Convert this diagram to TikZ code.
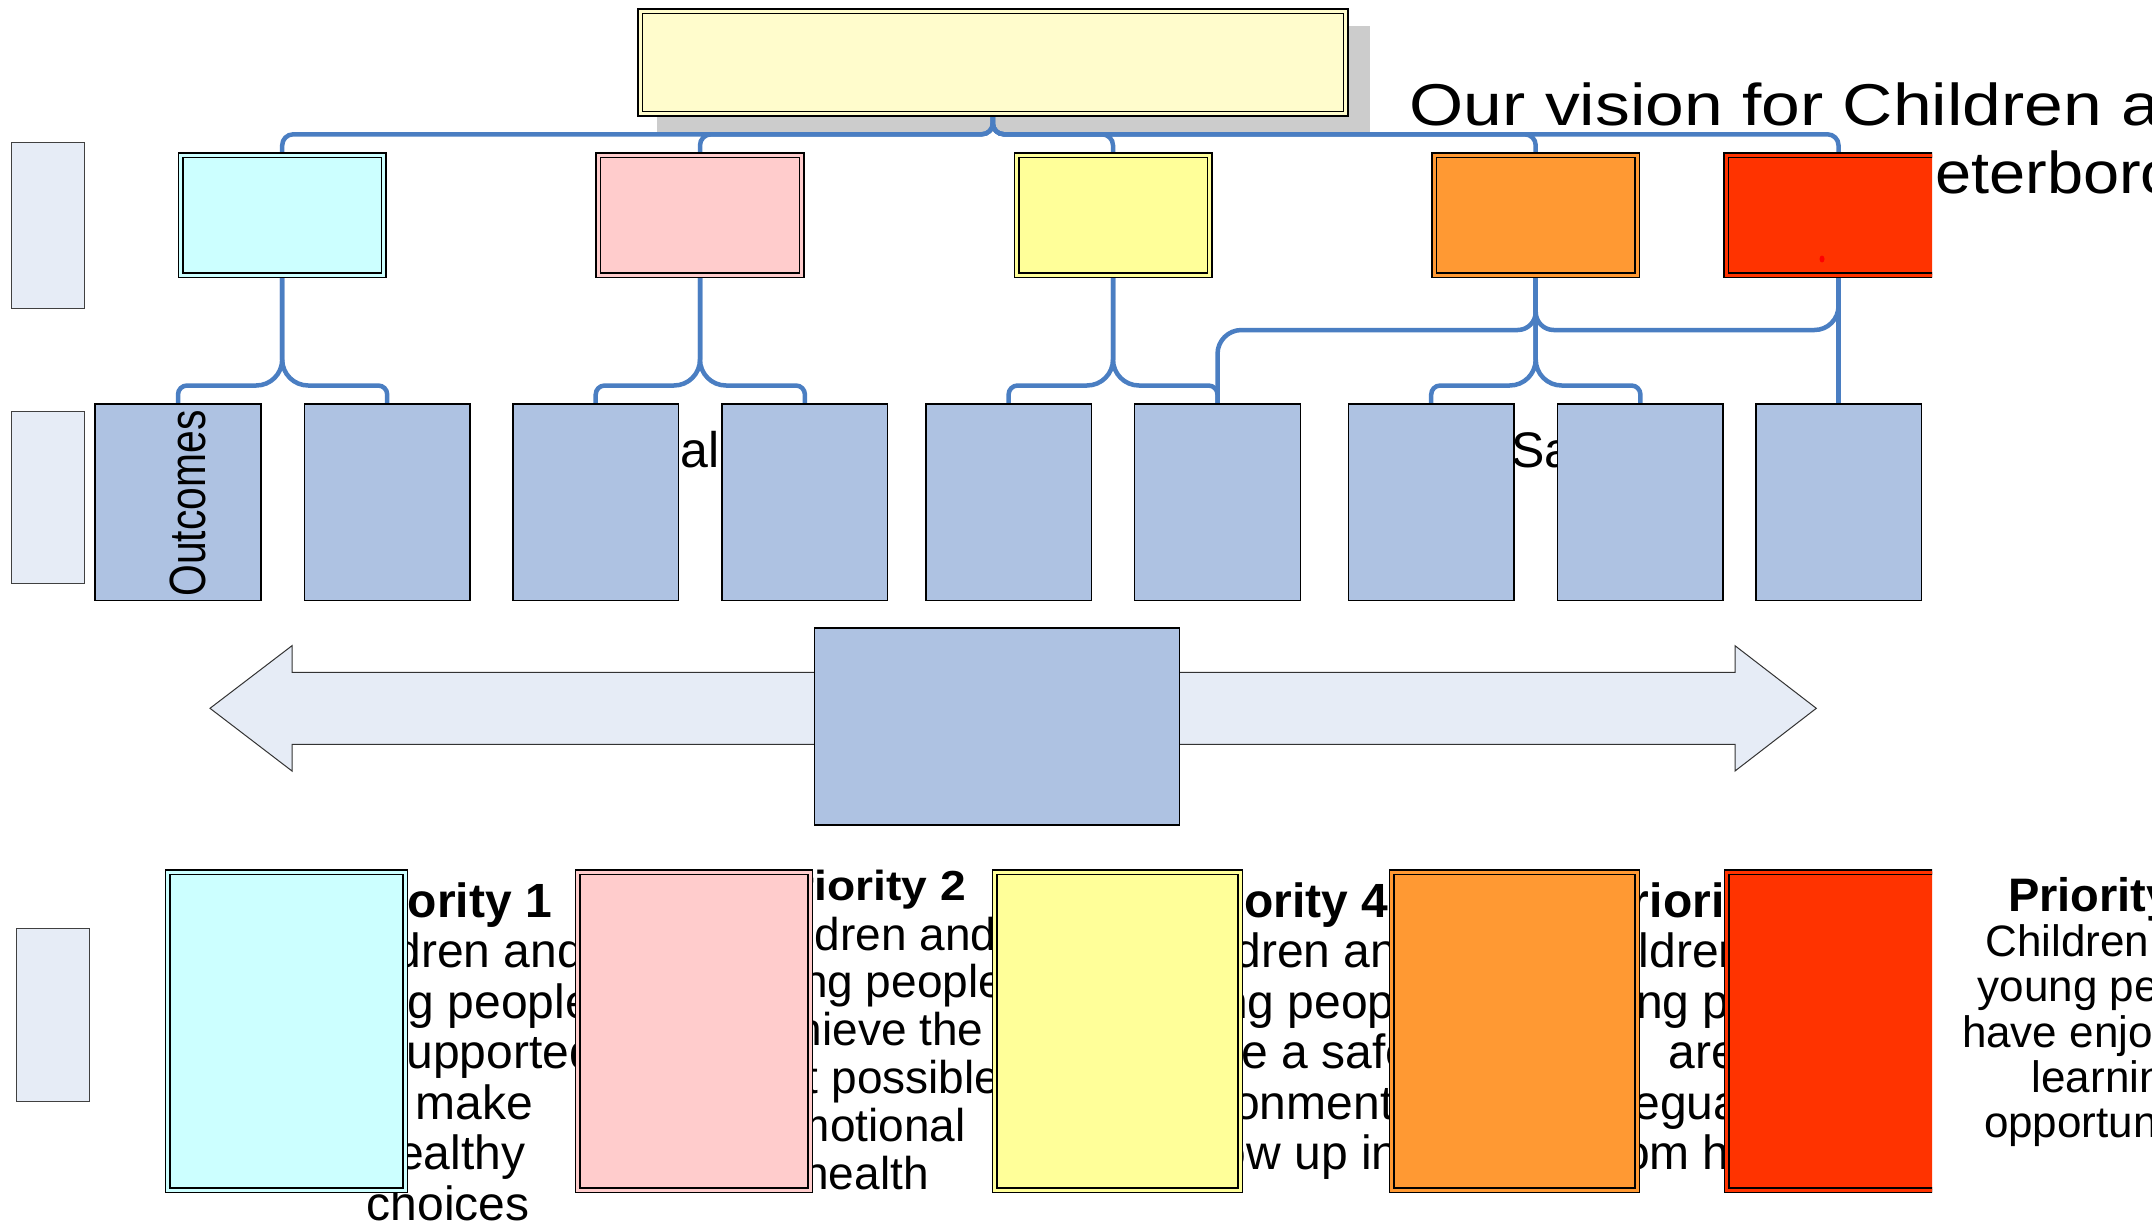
\documentclass[tikz,border=0pt]{standalone}
\usepackage{fontspec}
\setmainfont{Liberation Sans}
\usetikzlibrary{calc}
\pgfdeclarelayer{bg}
\pgfsetlayers{bg,main}
\definecolor{cblue}{RGB}{74,126,194}
\definecolor{lightbox}{RGB}{230,236,246}
\definecolor{outbox}{RGB}{174,194,226}
\definecolor{cyanb}{RGB}{204,255,255}
\definecolor{pinkb}{RGB}{255,204,204}
\definecolor{yellb}{RGB}{255,255,153}
\definecolor{orangeb}{RGB}{255,153,51}
\definecolor{redb}{RGB}{255,51,0}
\definecolor{topb}{RGB}{255,252,204}
\definecolor{shadowc}{RGB}{204,204,204}
\tikzset{
  conn/.style={draw=cblue, line width=4.5pt},
  dbox/.style={rectangle, inner sep=0pt, draw=black, line width=1.5pt, fill=#1, double=#1, double distance=3pt},
  obox/.style={rectangle, inner sep=0pt, draw=black, line width=1.5pt, fill=outbox, minimum width=165.6pt, minimum height=196.2pt},
  lbox/.style={rectangle, inner sep=0pt, draw=black!75, line width=1pt, fill=lightbox},
  arrowshape/.style={fill=lightbox, draw=black!80, line width=1pt},
  ptitle/.style={font=\fontsize{48}{50}\selectfont\bfseries, inner sep=0pt, anchor=base},
  pbody/.style={font=\fontsize{48}{50}\selectfont, inner sep=0pt, anchor=base},
  ttl/.style={font=\fontsize{59}{68}\selectfont, inner sep=0pt, anchor=base west},
  frag/.style={font=\fontsize{50}{60}\selectfont, inner sep=0pt, anchor=base west},
}
\newcommand\splitconn[5]{\draw[conn] (#1) [rounded corners=#4pt] -- (#1 |- #3) -- ($(#1 |- #3)!0.5!(#2 |- #3)$) [rounded corners=#5pt] -- (#2 |- #3) -- (#2);}
\begin{document}
\begin{tikzpicture}[x=1pt,y=-1pt]
\useasboundingbox (0,0) rectangle (2152,1227);
\clip (0,0) rectangle (2152,1227);

% row label boxes
\node[lbox, minimum width=72.4pt, minimum height=166.3pt] (lab1) at (48,225.65) {};
\node[lbox, minimum width=73pt, minimum height=172.3pt] (lab2) at (47.8,497.65) {};
\node[lbox, minimum width=73pt, minimum height=172.7pt] (lab3) at (53,1014.85) {};

% top box
\node[dbox=topb, minimum width=705.6pt, minimum height=102.4pt] (top) at (992.8,62.5) {};

% level 1
\node[dbox=cyanb, minimum width=203pt, minimum height=120pt] (c1) at (282.2,215.3) {};
\node[dbox=pinkb, minimum width=203.7pt, minimum height=120pt] (c2) at (700,215.3) {};
\node[dbox=yellb, minimum width=193pt, minimum height=120pt] (c3) at (1113,215.3) {};
\node[dbox=orangeb, minimum width=203.4pt, minimum height=120pt] (c4) at (1535.7,215.3) {};

% level 2
\foreach \xx [count=\i] in {178,387.2,595.7,804.9,1008.6,1217.5,1431.2,1640.4,1838.7}
  \node[obox] (o\i) at (\xx,502.2) {};

% double arrow and centre box
\draw[arrowshape] (210,708.3) -- (292,645.7) -- (292,672.3) -- (1735,672.3) -- (1735,645.7) -- (1816.3,708.3) -- (1735,771) -- (1735,744.3) -- (292,744.3) -- (292,771) -- cycle;
\node[obox, minimum width=365pt, minimum height=197pt] (mid) at (996.75,726.5) {};

% bottom priority boxes
\node[dbox=cyanb, minimum width=237.7pt, minimum height=318pt] (q1) at (286.35,1031.3) {};
\node[dbox=pinkb, minimum width=232.5pt, minimum height=318pt] (q2) at (693.85,1031.3) {};
\node[dbox=yellb, minimum width=245.6pt, minimum height=318pt] (q3) at (1117.5,1031.3) {};
\node[dbox=orangeb, minimum width=245.3pt, minimum height=318pt] (q4) at (1514.35,1031.3) {};
\begin{scope}
  \clip (1700,0) rectangle (1932,1227);
  \node[dbox=redb, minimum width=224.4pt, minimum height=120pt] (c5) at (1838.5,215.3) {};
  \node[dbox=redb, minimum width=250.3pt, minimum height=318pt] (q5) at (1851.85,1031.3) {};
\end{scope}
\fill[red] (1822,259) ellipse [x radius=2.5pt, y radius=3.5pt];

% rotated label
\node[rotate=90, xscale=0.8, anchor=base, inner sep=0pt, font=\fontsize{51}{51}\selectfont] (outc) at (205,503.5) {Outcomes};

\begin{pgfonlayer}{bg}
  \clip (0,0) rectangle (2152,1227);
  \fill[white] (0,0) rectangle (2152,1227);
  \fill[shadowc] (657,26) rectangle (1370,132);

  % title
  \node[ttl, xscale=1.18] (title1) at (1409.5,125) {Our vision for Children and};
  \node[ttl, xscale=1.10] (title2) at (1891.7,193.3) {Peterborough};

  % fragments behind level-2 boxes
  \node[frag] (fragal) at (680,467) {al};
  \node[frag] (fragsa) at (1511,467) {Sa};

  % priority texts
  \node[ptitle] (p1t) at (448,917) {Priority 1};
  \foreach \txt [count=\i] in {Children and,young people,are supported,to make,healthy,choices}
    \node[pbody] (p1l\i) at (448,917+50.5*\i) {\txt};

  \node[ptitle, font=\fontsize{42}{48}\selectfont\bfseries, xscale=1.1] (p2t) at (866,900.5) {Priority 2};
  \foreach \txt [count=\i] in {Children and,young people,achieve the,best possible,emotional,health}
    \node[pbody, font=\fontsize{46}{48}\selectfont] (p2l\i) at (866,902.2+47.8*\i) {\txt};

  \node[ptitle] (p4t) at (1284,917) {Priority 4};
  \foreach \txt [count=\i] in {Children and,young people,have a safe,environment to,grow up in}
    \node[pbody] (p4l\i) at (1288,917+50.5*\i) {\txt};

  \node[ptitle] (p5t) at (1703,917) {Priority 5};
  \foreach \txt [count=\i] in {Children and,young people,are,safeguarded,from harm}
    \node[pbody] (p5l\i) at (1703,917+50.5*\i) {\txt};

  \node[ptitle, font=\fontsize{47}{50}\selectfont\bfseries] (p6t) at (2110,911) {Priority 3};
  \foreach \txt [count=\i] in {Children and,young people,have enjoyable,learning,opportunities}
    \node[pbody, font=\fontsize{44}{46}\selectfont] (p6l\i) at (2110,911.5+45.2*\i) {\txt};

  % connectors
  \coordinate (busT) at (0,134.3);
  \coordinate (busM) at (0,385.5);
  \coordinate (busO) at (0,330);
  \foreach \cc in {c1,c2,c3,c4,c5}
    \draw[conn, rounded corners=11pt] (top.south) -- (top.south |- busT) -- (\cc.north |- busT) -- (\cc.north);
  \splitconn{c1.south}{o1.north}{busM}{26}{9}
  \splitconn{c1.south}{o2.north}{busM}{26}{9}
  \splitconn{c2.south}{o3.north}{busM}{26}{9}
  \splitconn{c2.south}{o4.north}{busM}{26}{9}
  \splitconn{c3.south}{o5.north}{busM}{26}{9}
  \splitconn{c3.south}{o6.north}{busM}{26}{9}
  \splitconn{c4.south}{o7.north}{busM}{26}{9}
  \splitconn{c4.south}{o8.north}{busM}{26}{9}
  \splitconn{c4.south}{o6.north}{busO}{18}{24}
  \splitconn{c4.south}{c5.south}{busO}{18}{24}
  \draw[conn] (c5.south) -- (c5.south |- o9.north);
\end{pgfonlayer}
\end{tikzpicture}
\end{document}
